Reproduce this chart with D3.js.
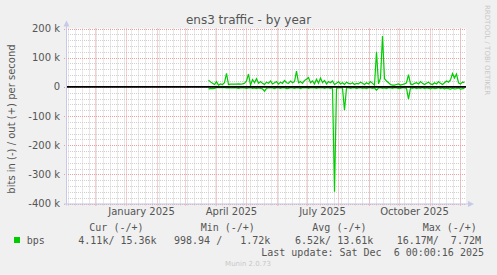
<!DOCTYPE html>
<html>
<head>
<meta charset="utf-8">
<script src="https://cdn.jsdelivr.net/npm/d3@7"></script>
<style>
  html, body { margin: 0; padding: 0; background: #f0f0f0; }
  svg { display: block; }
</style>
</head>
<body>
<svg id="chart" width="497" height="275"></svg>
<script>
/* --- ens3 traffic - by year --- */

const TITLE = "ens3 traffic - by year";
const Y_LABEL = "bits in (-) / out (+) per second";

// daily RRD rows, one sample every 2 days, in k bits/s
const DATA_START = "2025-03-24";
const STEP_DAYS = 2;

const outValues = [
  23, 17, 12, 8, 18, 6, 10, 8, 14, 46,
  8, 9, 9, 9, 9, 10, 9, 10, 12, 20,
  44, 6, 25, 14, 28, 12, 18, 12, 8, 16,
  12, 20, 10, 14, 18, 9, 16, 12, 22, 14,
  12, 20, 14, 18, 54, 14, 18, 12, 22, 26,
  32, 14, 20, 10, 26, 12, 30, 14, 22, 10,
  18, 14, 20, 8, 12, 18, 10, 14, 8, 16,
  12, 10, 14, 8, 12, 10, 16, 12, 8, 14,
  10, 18, 12, 6, 120, 10, 30, 174, 28, 20,
  14, 8, 6, 6, 8, 10, 6, 8, 10, 14,
  42, 10, 8, 12, 14, 10, 18, 12, 8, 12,
  16, 10, 8, 14, 10, 18, 12, 8, 14, 20,
  16, 24, 46, 30, 44, 14, 10, 16, 15
];

const inValues = [
  -7, -6, -6, -5, -3, -2, -3, -2, -3, -4,
  -3, -4, -4, -3, -4, -5, -4, -3, -4, -5,
  -4, -3, -5, -4, -6, -4, -5, -7, -15, -5,
  -4, -3, -4, -6, -3, -4, -5, -3, -4, -6,
  -5, -3, -4, -5, -3, -4, -6, -3, -4, -3,
  -5, -3, -4, -3, -5, -3, -4, -3, -5, -3,
  -4, -5, -3, -360, -5, -4, -3, -5, -80, -4,
  -3, -5, -4, -3, -6, -4, -3, -5, -4, -6,
  -3, -4, -5, -4, -11, -4, -3, -5, -4, -6,
  -3, -4, -5, -3, -4, -6, -5, -3, -4, -5,
  -42, -4, -5, -3, -6, -4, -5, -3, -6, -4,
  -5, -7, -4, -6, -5, -3, -6, -4, -7, -5,
  -6, -8, -5, -7, -6, -4, -8, -6, -5
];

const yTicks = [200, 100, 0, -100, -200, -300, -400];
const xLabelMonths = ["2025-01-16", "2025-04-16", "2025-07-16", "2025-10-16"];

const legendHeaders = ["Cur (-/+)", "Min (-/+)", "Avg (-/+)", "Max (-/+)"];
const legendValues = ["4.11k/ 15.36k", "998.94 /   1.72k", "6.52k/ 13.61k", "16.17M/  7.72M"];
const LAST_UPDATE = "Last update: Sat Dec  6 00:00:16 2025";

// --- layout ---
const W = 497, H = 275;
const plot = { left: 66, right: 466, top: 28.5, bottom: 203.5 };
const GREEN = "#00cc00";
const TEXT = "#555";
const MONO = "'DejaVu Sans Mono', monospace";
const SANS = "'DejaVu Sans', sans-serif";

const svg = d3.select("#chart");
svg.append("rect").attr("width", W).attr("height", H).attr("fill", "#f0f0f0");

const endDate = new Date(2025, 11, 6, 0, 0, 16);
const startDate = d3.timeDay.offset(endDate, -400);
const x = d3.scaleTime().domain([startDate, endDate]).range([plot.left - 0.5, plot.right - 0.5]);
const y = d3.scaleLinear().domain([-400, 200]).range([plot.bottom, plot.top]);

const parse = d3.timeParse("%Y-%m-%d");
const t0 = parse(DATA_START);
const outSeries = outValues.map((v, i) => ({ t: d3.timeDay.offset(t0, i * STEP_DAYS), v }));
const inSeries = inValues.map((v, i) => ({ t: d3.timeDay.offset(t0, i * STEP_DAYS), v }));

// plot background
svg.append("rect")
  .attr("x", plot.left).attr("y", plot.top)
  .attr("width", plot.right - plot.left).attr("height", plot.bottom - plot.top)
  .attr("fill", "white");

// --- grid ---
const grid = svg.append("g");
const minorY = d3.range(-400, 201, 20).filter(v => v % 100 !== 0);
grid.selectAll(".hminor").data(minorY).join("line")
  .attr("x1", plot.left).attr("x2", plot.right)
  .attr("y1", d => Math.round(y(d)) + 0.5).attr("y2", d => Math.round(y(d)) + 0.5)
  .attr("stroke", "#d0d0d0").attr("stroke-dasharray", "1,1");

const weeks = d3.timeMonday.range(startDate, endDate);
grid.selectAll(".vminor").data(weeks).join("line")
  .attr("x1", d => Math.round(x(d)) + 0.5).attr("x2", d => Math.round(x(d)) + 0.5)
  .attr("y1", plot.top).attr("y2", plot.bottom + 2)
  .attr("stroke", "#d0d0d0").attr("stroke-dasharray", "1,1");

grid.selectAll(".hmajor").data(yTicks).join("line")
  .attr("x1", plot.left - 2).attr("x2", plot.right)
  .attr("y1", d => Math.round(y(d)) + 0.5).attr("y2", d => Math.round(y(d)) + 0.5)
  .attr("stroke", "#eba0a0").attr("stroke-dasharray", "1,1");

const months = d3.timeMonth.range(startDate, endDate);
grid.selectAll(".vmajor").data(months).join("line")
  .attr("x1", d => Math.round(x(d)) + 0.5).attr("x2", d => Math.round(x(d)) + 0.5)
  .attr("y1", plot.top).attr("y2", plot.bottom + 3)
  .attr("stroke", "#eba0a0").attr("stroke-dasharray", "1,1");

// --- axis labels ---
svg.append("g").selectAll("text").data(yTicks).join("text")
  .attr("x", 60).attr("y", d => y(d)).attr("dy", "0.35em")
  .attr("text-anchor", "end")
  .attr("font-family", SANS).attr("font-size", 10).attr("fill", TEXT)
  .text(d => d === 0 ? "0" : `${d} k`);

svg.append("g").selectAll("text").data(xLabelMonths.map(parse)).join("text")
  .attr("x", d => x(d)).attr("y", 215)
  .attr("text-anchor", "middle")
  .attr("font-family", SANS).attr("font-size", 10).attr("fill", TEXT)
  .text(d3.timeFormat("%B %Y"));

// --- data lines ---
const line = d3.line().x(d => x(d.t)).y(d => y(d.v));
svg.append("path").datum(inSeries)
  .attr("d", line).attr("fill", "none")
  .attr("stroke", GREEN).attr("stroke-width", 1.2);
svg.append("path").datum(outSeries)
  .attr("d", line).attr("fill", "none")
  .attr("stroke", GREEN).attr("stroke-width", 1.2);

// zero rule
svg.append("line")
  .attr("x1", plot.left).attr("x2", plot.right)
  .attr("y1", y(0)).attr("y2", y(0))
  .attr("stroke", "#000").attr("stroke-width", 1.6);

// --- axes with arrows ---
const AXIS = "#c8c8e8";
svg.append("line")
  .attr("x1", plot.left + 0.5).attr("x2", plot.left + 0.5)
  .attr("y1", plot.bottom + 2).attr("y2", plot.top - 4)
  .attr("stroke", AXIS);
svg.append("line")
  .attr("x1", plot.left - 2).attr("x2", plot.right + 4)
  .attr("y1", plot.bottom + 0.5).attr("y2", plot.bottom + 0.5)
  .attr("stroke", AXIS);
svg.append("path")
  .attr("d", `M ${plot.left - 2.5} ${plot.top - 2} L ${plot.left + 0.5} ${plot.top - 8} L ${plot.left + 3.5} ${plot.top - 2} Z`)
  .attr("fill", AXIS);
svg.append("path")
  .attr("d", `M ${plot.right + 2} ${plot.bottom - 2.5} L ${plot.right + 8} ${plot.bottom + 0.5} L ${plot.right + 2} ${plot.bottom + 3.5} Z`)
  .attr("fill", AXIS);

// --- titles ---
svg.append("text")
  .attr("x", 248.5).attr("y", 24)
  .attr("text-anchor", "middle")
  .attr("font-family", SANS).attr("font-size", 12).attr("fill", TEXT)
  .text(TITLE);

svg.append("text")
  .attr("transform", "translate(15,119) rotate(-90)")
  .attr("text-anchor", "middle")
  .attr("font-family", SANS).attr("font-size", 10).attr("fill", TEXT)
  .text(Y_LABEL);

svg.append("text")
  .attr("transform", "translate(485,5) rotate(90)")
  .attr("font-family", SANS).attr("font-size", 7).attr("fill", "#c8c8c8")
  .text("RRDTOOL / TOBI OETIKER");

// --- legend ---
const headerX = [89.3, 200.7, 312.3, 422.7];
const valueX = [78.3, 174, 295, 396.7];
const leg = svg.append("g")
  .attr("font-family", MONO).attr("font-size", 10).attr("fill", TEXT)
  .attr("xml:space", "preserve");

leg.selectAll(".hdr").data(legendHeaders).join("text")
  .attr("x", (d, i) => headerX[i]).attr("y", 231)
  .style("white-space", "pre")
  .text(d => d);

leg.append("rect")
  .attr("x", 14).attr("y", 237).attr("width", 6).attr("height", 6)
  .attr("fill", GREEN);
leg.append("text").attr("x", 26.7).attr("y", 244).text("bps");

leg.selectAll(".val").data(legendValues).join("text")
  .attr("x", (d, i) => valueX[i]).attr("y", 244)
  .style("white-space", "pre")
  .text(d => d);

leg.append("text")
  .attr("x", 484).attr("y", 256)
  .attr("text-anchor", "end")
  .style("white-space", "pre")
  .text(LAST_UPDATE);

svg.append("text")
  .attr("x", 248).attr("y", 266)
  .attr("text-anchor", "middle")
  .attr("font-family", SANS).attr("font-size", 7).attr("fill", "#c8c8c8")
  .text("Munin 2.0.73");
</script>
</body>
</html>
